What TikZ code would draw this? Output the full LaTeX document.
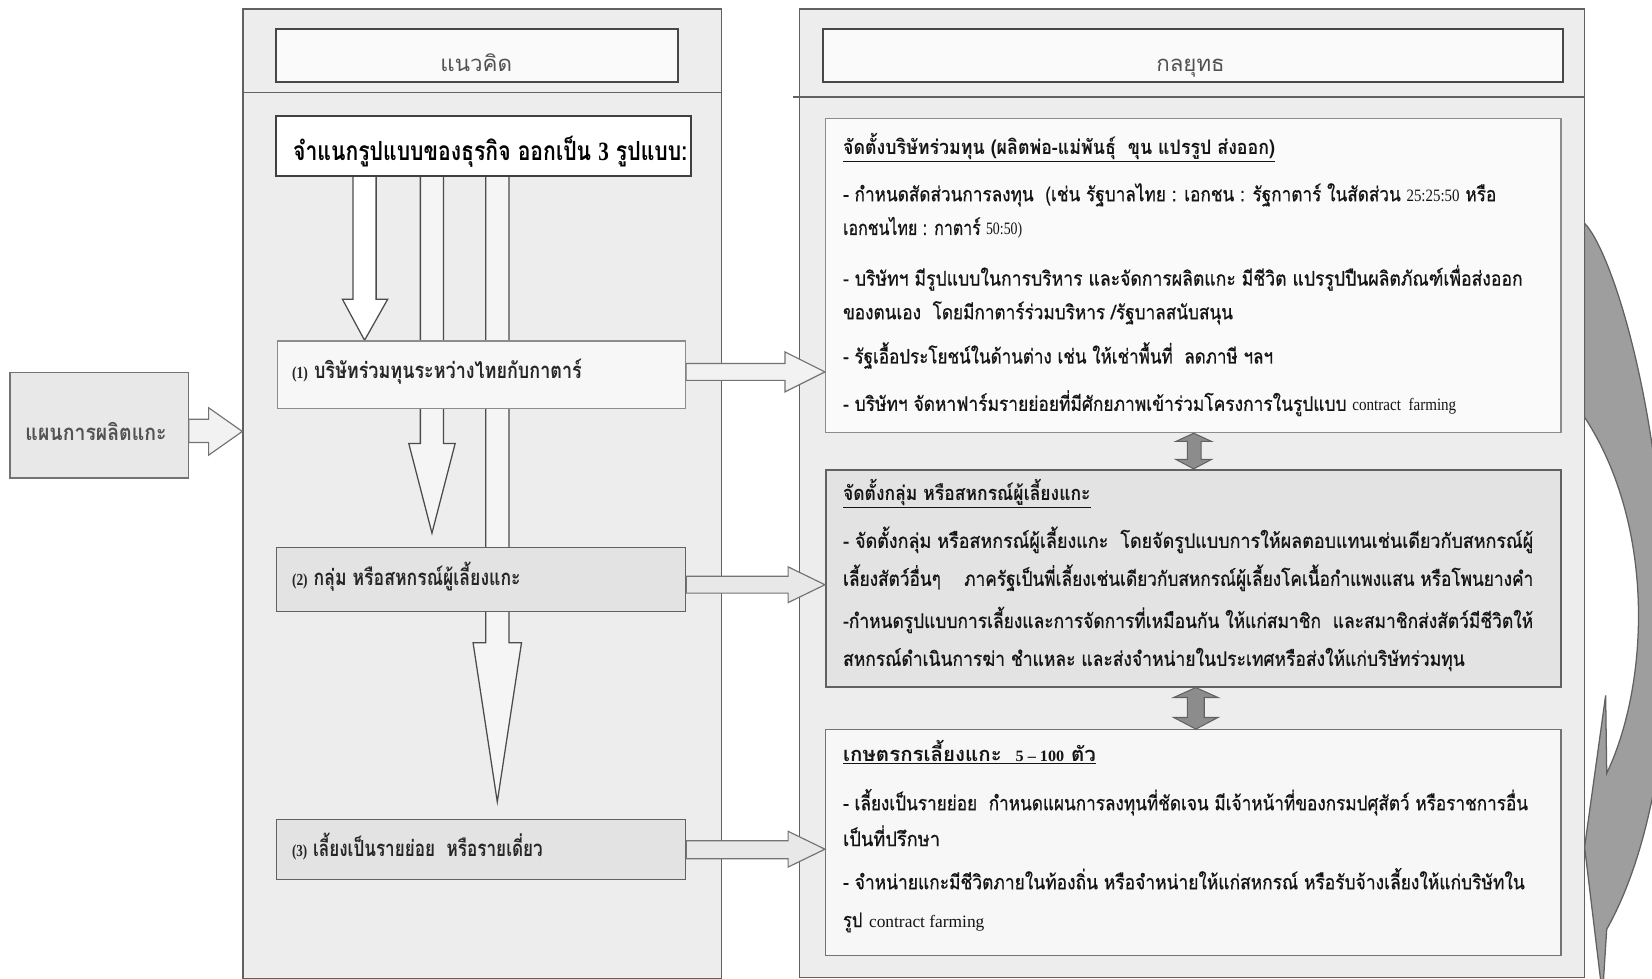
\documentclass[tikz,border=0pt]{standalone}
\usepackage{fontspec}
\setmainfont{Liberation Serif}
\newfontfamily\thf[Script=Thai]{Loma}
\newfontfamily\thfb[Script=Thai, FakeBold=0.7]{Loma}
\usepackage{graphicx}
\newcommand{\fl}[2]{\resizebox{#1pt}{\height}{#2}}
\newcommand{\lat}[1]{{\rmfamily\fontsize{16.5}{18}\selectfont #1}}
\begin{document}
\begin{tikzpicture}[x=1pt,y=-1pt,
  panel/.style={draw=black!62, fill=black!7, line width=1.4pt, anchor=north west, inner sep=0},
  headbox/.style={draw=black!72, fill=black!2, line width=1.8pt, anchor=north west, inner sep=0},
  whitebox/.style={draw=black!75, fill=white, line width=1.8pt, anchor=north west, inner sep=0},
  lightbox/.style={draw=black!45, fill=black!3, line width=1.2pt, anchor=north west, inner sep=0},
  greybox/.style={draw=black!62, fill=black!11, line width=1.3pt, anchor=north west, inner sep=0},
  hollow/.style={draw=black!70, line width=1.2pt, line join=miter},
  barrow/.style={draw=black!55, fill=black!5, line width=1.1pt, line join=miter},
  darrow/.style={draw=black!62, fill=black!45, line width=1pt},
  carrow/.style={draw=black!62, fill=black!38, line width=1.2pt},
  body/.style={anchor=base west, inner sep=0, text=black!92, font=\thfb\fontsize{19}{22}\selectfont},
  lbl/.style={anchor=base west, inner sep=0, text=black!85, font=\thf\bfseries\fontsize{21}{25}\selectfont},
  ttl/.style={anchor=base, inner sep=0, text=black!68, font=\thf\fontsize{21}{25}\selectfont}
]
\useasboundingbox (0,0) rectangle (1568,929);
\fill[white] (0,0) rectangle (1568,929);

% curved arrow on the right (cut by the page edge)
\begin{scope}
\clip (0,0) rectangle (1568,929);
\draw[carrow] (1504,212) .. controls (1528,236) and (1578,380) .. (1583,600)
  .. controls (1583,720) and (1560,820) .. (1525,882) -- (1521,945) -- (1504,804)
  -- (1524,660) -- (1525,734) .. controls (1565,650) and (1572,500) .. (1504,396) -- cycle;
\end{scope}

% left input box
\node[draw=black!55, fill=black!9, line width=1.2pt, anchor=north west, inner sep=0,
  minimum width=169pt, minimum height=100pt] (plan) at (9,353) {};
\node[anchor=base west, inner sep=0, text=black!68, font=\thf\bfseries\fontsize{21}{25}\selectfont]
  (plant) at (24,418) {\fl{134}{แผนการผลิตแกะ}};

% panels
\node[panel, minimum width=454pt, minimum height=920pt] (lp) at (230,8) {};
\node[panel, minimum width=745pt, minimum height=919pt] (rp) at (758,8) {};
\draw[black!62, line width=1.3pt] (lp.west |- 0,88) -- (lp.east |- 0,88);
\draw[black!62, line width=1.3pt] (753,92) -- (rp.east |- 0,92);

\draw[barrow] (plan.east |- 0,398) -- (198,398) -- (198,387) -- (lp.west |- 0,409.5)
  -- (198,432) -- (198,420) -- (plan.east |- 0,420) -- cycle;

% headers
\node[headbox, minimum width=382pt, minimum height=50pt] (lh) at (261,27) {};
\node[ttl] (lht) at (452,68) {\fl{68}{แนวคิด}};
\node[headbox, minimum width=703pt, minimum height=50pt] (rh) at (780,27) {};
\node[ttl] (rht) at (1130,68) {\fl{65}{กลยุทธ}};

% down arrows
\draw[hollow, fill=black!4] (461,166) -- (461,610) -- (449,610) -- (472,761) -- (495,610) -- (483,610) -- (483,166) -- cycle;
\draw[hollow, fill=black!4] (399,166) -- (399,421) -- (388,421) -- (410,506) -- (432,421) -- (421,421) -- (421,166) -- cycle;
\draw[hollow, fill=white] (335,166) -- (335,284) -- (325,284) -- (346,323) -- (368,284) -- (357,284) -- (357,166) -- cycle;

% left column boxes
\node[whitebox, minimum width=394pt, minimum height=57pt] (b0) at (261,109) {};
\node[lbl, text=black, font=\thf\bfseries\fontsize{25}{29}\selectfont] (t0) at (278,152)
  {\fl{374}{จำแนกรูปแบบของธุรกิจ ออกเป็น {\rmfamily 3} รูปแบบ:}};
\node[lightbox, minimum width=387pt, minimum height=64pt] (b1) at (263,323) {};
\node[lbl] (t1) at (277,359) {\fl{275}{{\rmfamily\fontsize{16}{18}\selectfont (1)} บริษัทร่วมทุนระหว่างไทยกับกาตาร์}};
\node[greybox, minimum width=388pt, minimum height=61pt] (b2) at (262,519) {};
\node[lbl] (t2) at (277,556) {\fl{217}{{\rmfamily\fontsize{16}{18}\selectfont (2)} กลุ่ม หรือสหกรณ์ผู้เลี้ยงแกะ}};
\node[greybox, minimum width=388pt, minimum height=57pt] (b3) at (262,777) {};
\node[lbl] (t3) at (277,813) {\fl{238}{{\rmfamily\fontsize{16}{18}\selectfont (3)} เลี้ยงเป็นรายย่อย\ \ หรือรายเดี่ยว}};

% right column boxes
\node[lightbox, fill=black!2, minimum width=698pt, minimum height=298pt] (bA) at (783,112) {};
\node[greybox, line width=1.6pt, minimum width=698pt, minimum height=206pt] (bB) at (783,445) {};
\node[lightbox, draw=black!55, minimum width=698pt, minimum height=214pt] (bC) at (783,692) {};

% horizontal arrows
\draw[barrow] (b1.east |- 0,345) -- (745,345) -- (745,334) -- (bA.west |- 0,353)
  -- (745,372) -- (745,361) -- (b1.east |- 0,361) -- cycle;
\draw[barrow, fill=black!9] (b2.east |- 0,547) -- (748,547) -- (748,538) -- (bB.west |- 0,555)
  -- (748,572) -- (748,563) -- (b2.east |- 0,563) -- cycle;
\draw[barrow, fill=black!9] (b3.east |- 0,798) -- (748,798) -- (748,789) -- (bC.west |- 0,806)
  -- (748,823) -- (748,815) -- (b3.east |- 0,815) -- cycle;

% double arrows between strategy boxes
\draw[darrow] (1133,0 |- bA.south) -- (1150,419) -- (1140,419) -- (1140,436) -- (1150,436)
  -- (1133,0 |- bB.north) -- (1116,436) -- (1127,436) -- (1127,419) -- (1116,419) -- cycle;
\draw[darrow] (1135,0 |- bB.south) -- (1156,662) -- (1143,662) -- (1143,681) -- (1156,681)
  -- (1135,0 |- bC.north) -- (1114,681) -- (1127,681) -- (1127,662) -- (1114,662) -- cycle;

% box A text
\node[body] (tA0) at (800,147) {\fl{410}{\thf\bfseries\underline{จัดตั้งบริษัทร่วมทุน (ผลิตพ่อ-แม่พันธุ์\ \ ขุน แปรรูป ส่งออก)}}};
\node[body] (tA1) at (800,191) {\fl{620}{- กำหนดสัดส่วนการลงทุน\ \ (เช่น รัฐบาลไทย : เอกชน : รัฐกาตาร์ ในสัดส่วน \lat{25:25:50} หรือ}};
\node[body] (tA2) at (800,223) {\fl{170}{เอกชนไทย : กาตาร์ \lat{50:50)}}};
\node[body] (tA3) at (800,271) {\fl{645}{- บริษัทฯ มีรูปแบบในการบริหาร และจัดการผลิตแกะ มีชีวิต แปรรูปปืนผลิตภัณฑ์เพื่อส่งออก}};
\node[body] (tA4) at (800,303) {\fl{370}{ของตนเอง\ \ โดยมีกาตาร์ร่วมบริหาร /รัฐบาลสนับสนุน}};
\node[body] (tA5) at (800,345) {\fl{408}{- รัฐเอื้อประโยชน์ในด้านต่าง เช่น ให้เช่าพื้นที่\ \ ลดภาษี ฯลฯ}};
\node[body] (tA6) at (800,390) {\fl{582}{- บริษัทฯ จัดหาฟาร์มรายย่อยที่มีศักยภาพเข้าร่วมโครงการในรูปแบบ \lat{contract\ \ farming}}};

% box B text
\node[body] (tB0) at (800,475) {\fl{235}{\thf\bfseries\underline{จัดตั้งกลุ่ม หรือสหกรณ์ผู้เลี้ยงแกะ}}};
\node[body] (tB1) at (800,520) {\fl{655}{- จัดตั้งกลุ่ม หรือสหกรณ์ผู้เลี้ยงแกะ\ \ โดยจัดรูปแบบการให้ผลตอบแทนเช่นเดียวกับสหกรณ์ผู้}};
\node[body] (tB2) at (800,556) {\fl{655}{เลี้ยงสัตว์อื่นๆ\ \ \ \ ภาครัฐเป็นพี่เลี้ยงเช่นเดียวกับสหกรณ์ผู้เลี้ยงโคเนื้อกำแพงแสน หรือโพนยางคำ}};
\node[body] (tB3) at (800,596) {\fl{655}{-กำหนดรูปแบบการเลี้ยงและการจัดการที่เหมือนกัน ให้แก่สมาชิก\ \ และสมาชิกส่งสัตว์มีชีวิตให้}};
\node[body] (tB4) at (800,632) {\fl{590}{สหกรณ์ดำเนินการฆ่า ชำแหละ และส่งจำหน่ายในประเทศหรือส่งให้แก่บริษัทร่วมทุน}};

% box C text
\node[body] (tC0) at (800,723) {\fl{240}{\thf\bfseries\underline{เกษตรกรเลี้ยงแกะ\ \ {\rmfamily\fontsize{15}{17}\selectfont 5 – 100} ตัว}}};
\node[body] (tC1) at (800,769) {\fl{650}{- เลี้ยงเป็นรายย่อย\ \ กำหนดแผนการลงทุนที่ชัดเจน มีเจ้าหน้าที่ของกรมปศุสัตว์ หรือราชการอื่น}};
\node[body] (tC2) at (800,803) {\fl{92}{เป็นที่ปรึกษา}};
\node[body] (tC3) at (800,844) {\fl{647}{- จำหน่ายแกะมีชีวิตภายในท้องถิ่น หรือจำหน่ายให้แก่สหกรณ์ หรือรับจ้างเลี้ยงให้แก่บริษัทใน}};
\node[body] (tC4) at (800,880) {\scalebox{0.82}[1]{รูป} \lat{contract farming}};
\end{tikzpicture}
\end{document}
